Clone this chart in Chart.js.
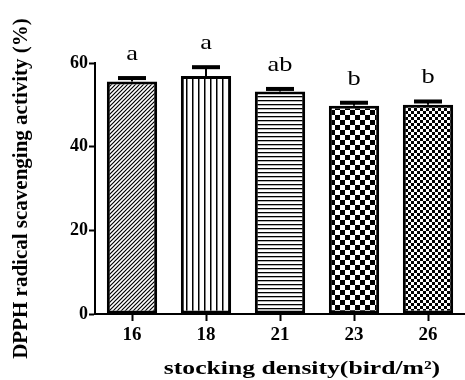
<!DOCTYPE html>
<html>
<head>
<meta charset="utf-8">
<script src="https://cdn.jsdelivr.net/npm/chart.js@4/dist/chart.umd.min.js"></script>
<style>
  html, body { margin: 0; padding: 0; background: #fff; }
  #wrap { width: 465px; height: 380px; position: relative; }
</style>
</head>
<body>
<div id="wrap"><canvas id="dpph"></canvas></div>
<script>
var densities = ['16', '18', '21', '23', '26'];
var means = [55.6, 56.9, 53.2, 49.8, 50.0];
var errors = [0.8, 2.1, 0.6, 0.7, 0.8];
var letters = ['a', 'a', 'ab', 'b', 'b'];
var yTicks = [0, 20, 40, 60];

(function () {
  var FONT = "'Liberation Serif', 'Times New Roman', serif";

  function makePattern(size, draw) {
    var c = document.createElement('canvas');
    c.width = size; c.height = size;
    var g = c.getContext('2d');
    g.fillStyle = '#fff';
    g.fillRect(0, 0, size, size);
    g.fillStyle = '#000';
    g.strokeStyle = '#000';
    draw(g, size);
    return g.createPattern(c, 'repeat');
  }

  var patterns = [
    // diagonal hatch
    makePattern(4, function (g, s) {
      g.lineWidth = 1.2;
      g.beginPath();
      g.moveTo(-1, s + 1); g.lineTo(s + 1, -1);
      g.moveTo(-1, 1); g.lineTo(1, -1);
      g.moveTo(s - 1, s + 1); g.lineTo(s + 1, s - 1);
      g.stroke();
    }),
    // vertical lines
    makePattern(6, function (g, s) { g.fillRect(0, 0, 1.5, s); }),
    // horizontal lines
    makePattern(4, function (g, s) { g.fillRect(0, 0, s, 1.3); }),
    // coarse checker
    makePattern(10, function (g, s) { g.fillRect(0, 0, 5, 5); g.fillRect(5, 5, 5, 5); }),
    // fine checker
    makePattern(6, function (g, s) { g.fillRect(0, 0, 3, 3); g.fillRect(3, 3, 3, 3); })
  ];

  // error bars (upper only) and significance letters
  var errorBars = {
    id: 'errorBars',
    afterDatasetsDraw: function (chart) {
      var ctx = chart.ctx;
      var y = chart.scales.y;
      var meta = chart.getDatasetMeta(0);
      ctx.save();
      ctx.strokeStyle = '#000';
      ctx.fillStyle = '#000';
      meta.data.forEach(function (bar, i) {
        var top = y.getPixelForValue(means[i] + errors[i]);
        var base = y.getPixelForValue(means[i]);
        ctx.lineWidth = 2;
        ctx.beginPath();
        ctx.moveTo(bar.x, base);
        ctx.lineTo(bar.x, top);
        ctx.stroke();
        ctx.fillRect(bar.x - 14, top - 2, 28, 4);
        ctx.save();
        ctx.translate(bar.x, top - 18);
        ctx.scale(1.2, 1);
        ctx.font = '22px ' + FONT;
        ctx.textAlign = 'center';
        ctx.textBaseline = 'alphabetic';
        ctx.fillText(letters[i], 0, 0);
        ctx.restore();
      });
      ctx.restore();
    }
  };

  var xTitle = {
    id: 'xTitle',
    afterDraw: function (chart) {
      var ctx = chart.ctx;
      var a = chart.chartArea;
      ctx.save();
      ctx.fillStyle = '#000';
      ctx.translate((a.left + a.right) / 2 + 22, 374);
      ctx.scale(1.35, 1);
      ctx.font = 'bold 19px ' + FONT;
      ctx.textAlign = 'center';
      ctx.textBaseline = 'alphabetic';
      ctx.fillText('stocking density(bird/m\u00b2)', 0, 0);
      ctx.restore();
    }
  };

  new Chart(document.getElementById('dpph').getContext('2d'), {
    type: 'bar',
    data: {
      labels: densities,
      datasets: [{
        data: means,
        backgroundColor: patterns,
        borderColor: '#000',
        borderWidth: 3,
        borderSkipped: false,
        barPercentage: 0.68,
        categoryPercentage: 1
      }]
    },
    options: {
      responsive: true,
      maintainAspectRatio: false,
      animation: false,
      layout: { padding: { top: 63, right: -5, bottom: 0, left: 9 } },
      plugins: { legend: { display: false }, tooltip: { enabled: false } },
      scales: {
        x: {
          offset: true,
          afterFit: function (axis) { axis.height = 66; },
          grid: { display: true, offset: false, drawOnChartArea: false, drawTicks: true, tickLength: 7, tickWidth: 2, tickColor: '#000' },
          border: { display: true, color: '#000', width: 2 },
          ticks: { color: '#000', font: { family: FONT, size: 19, weight: 'bold' }, padding: 3 }
        },
        y: {
          min: 0,
          max: 60,
          afterBuildTicks: function (axis) {
            axis.ticks = yTicks.map(function (v) { return { value: v }; });
          },
          afterFit: function (axis) { axis.width = 86; },
          grid: { display: true, drawOnChartArea: false, drawTicks: true, tickLength: 6, tickWidth: 2, tickColor: '#000' },
          border: { display: true, color: '#000', width: 2 },
          ticks: { color: '#000', font: { family: FONT, size: 18, weight: 'bold' }, padding: 1 },
          title: {
            display: true,
            text: 'DPPH radical scavenging activity (%)',
            color: '#000',
            font: { family: FONT, size: 21, weight: 'bold' },
            padding: { top: 0, bottom: 0 }
          }
        }
      }
    },
    plugins: [errorBars, xTitle]
  });
})();
</script>
</body>
</html>
